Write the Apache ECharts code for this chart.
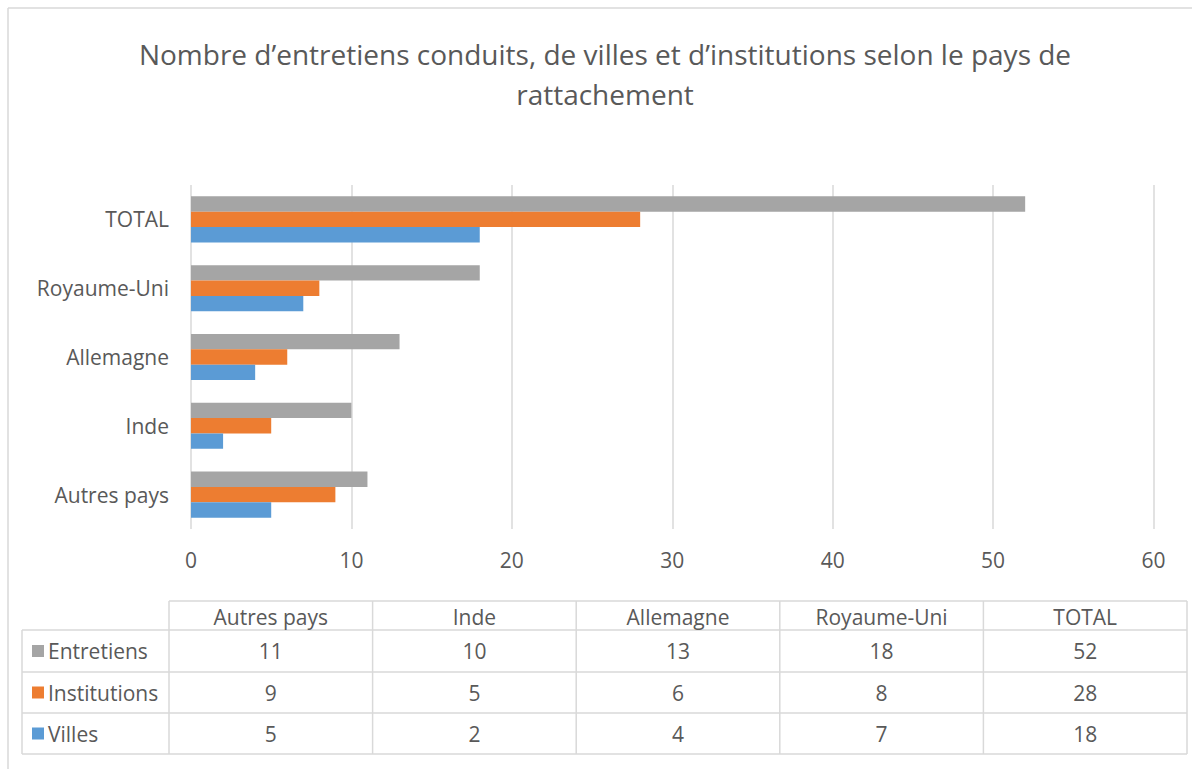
<!DOCTYPE html>
<html>
<head>
<meta charset="utf-8">
<style>html,body{margin:0;padding:0;background:#fff;}#c{width:1192px;height:769px;}</style>
<script src="https://cdn.jsdelivr.net/npm/echarts@6/dist/echarts.min.js"></script>
</head>
<body>
<div id="c"></div>
<script>
var titleText = 'Nombre d\u2019entretiens conduits, de villes et d\u2019institutions selon le pays de\nrattachement';
var categories = ['Autres pays', 'Inde', 'Allemagne', 'Royaume-Uni', 'TOTAL'];
var seriesNames = ['Entretiens', 'Institutions', 'Villes'];
var entretiens = [11, 10, 13, 18, 52];
var institutions = [9, 5, 6, 8, 28];
var villes = [5, 2, 4, 7, 18];
var xTicks = [0, 10, 20, 30, 40, 50, 60];

var colors = {Entretiens: '#A5A5A5', Institutions: '#ED7D31', Villes: '#5B9BD5'};
var values = {Entretiens: entretiens, Institutions: institutions, Villes: villes};
var FONT = '"Open Sans", sans-serif';
var FS = 21;
var TXT = '#595959';
var LINE = '#d9d9d9';

// table layout
var tX0 = 22, tX1 = 169, tXR = 1187;
var rowY = [601, 630, 672, 713, 754];
var colW = (tXR - tX1) / categories.length;

var g = [];
function hline(x1, x2, y) { g.push({type: 'line', shape: {x1: x1, y1: y, x2: x2, y2: y}, style: {stroke: LINE, lineWidth: 1.5}, silent: true}); }
function vline(x, y1, y2) { g.push({type: 'line', shape: {x1: x, y1: y1, x2: x, y2: y2}, style: {stroke: LINE, lineWidth: 1.5}, silent: true}); }
// outer chart border
hline(8, 1192, 8);
vline(8, 8, 769);
// table grid
hline(tX1, tXR, rowY[0]);
for (var r = 1; r < rowY.length; r++) hline(tX0, tXR, rowY[r]);
vline(tX0, rowY[1], rowY[4]);
for (var c = 0; c <= categories.length; c++) vline(tX1 + c * colW, rowY[0], rowY[4]);
// header texts
categories.forEach(function (cat, i) {
  g.push({type: 'text', x: tX1 + (i + 0.5) * colW, y: (rowY[0] + rowY[1]) / 2 + 1,
    style: {text: cat, fill: TXT, font: FS + 'px ' + FONT, textAlign: 'center', textVerticalAlign: 'middle'}});
});
seriesNames.forEach(function (name, r) {
  var cy = (rowY[r + 1] + rowY[r + 2]) / 2;
  g.push({type: 'rect', shape: {x: 32, y: cy - 6, width: 12, height: 12}, style: {fill: colors[name]}});
  g.push({type: 'text', x: 48, y: cy, style: {text: name, fill: TXT, font: FS + 'px ' + FONT, textAlign: 'left', textVerticalAlign: 'middle'}});
  values[name].forEach(function (v, i) {
    g.push({type: 'text', x: tX1 + (i + 0.5) * colW, y: cy,
      style: {text: String(v), fill: TXT, font: FS + 'px ' + FONT, textAlign: 'center', textVerticalAlign: 'middle'}});
  });
});

var chart = echarts.init(document.getElementById('c'), null, {renderer: 'svg'});
chart.setOption({
  animation: false,
  backgroundColor: '#fff',
  title: {
    text: titleText, left: 600, top: 29, textAlign: 'center',
    textStyle: {fontFamily: FONT, fontSize: 28, fontWeight: 'normal', color: TXT, lineHeight: 40}
  },
  grid: {left: 191, right: 38.5, top: 185, bottom: 240, containLabel: false},
  xAxis: {
    type: 'value', min: xTicks[0], max: xTicks[xTicks.length - 1], interval: xTicks[1] - xTicks[0],
    axisLine: {show: false}, axisTick: {show: false},
    splitLine: {lineStyle: {color: LINE, width: 1.5}},
    axisLabel: {color: TXT, fontFamily: FONT, fontSize: FS, margin: 20}
  },
  yAxis: {
    type: 'category', data: categories,
    axisLine: {show: false}, axisTick: {show: false},
    axisLabel: {color: TXT, fontFamily: FONT, fontSize: FS, margin: 22}
  },
  series: seriesNames.map(function (name) {
    return {name: name, type: 'bar', data: values[name], barGap: '0%', barCategoryGap: '33%',
      itemStyle: {color: colors[name]}, silent: true};
  }),
  graphic: g
});
</script>
</body>
</html>
